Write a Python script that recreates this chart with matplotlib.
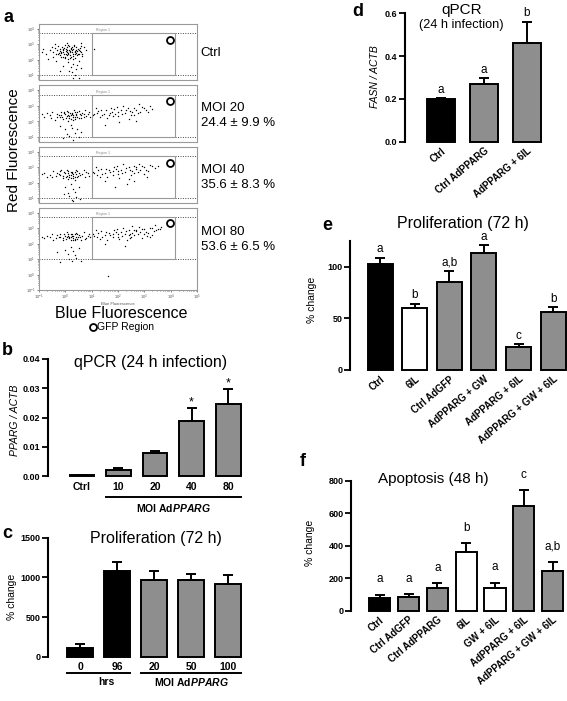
import numpy as np
import matplotlib.pyplot as plt
from matplotlib.lines import Line2D

plt.rcParams['font.family'] = ['Liberation Sans', 'DejaVu Sans']
plt.rcParams['mathtext.fontset'] = 'custom'
plt.rcParams['mathtext.rm'] = 'Liberation Sans'
plt.rcParams['mathtext.it'] = 'Liberation Sans:italic:bold'
plt.rcParams['mathtext.bf'] = 'Liberation Sans:bold'

# ---- panel a: flow cytometry (log10 units) ----
flow_labels = ['Ctrl', 'MOI 20', 'MOI 40', 'MOI 80']
flow_pct = [None, '24.4 \u00b1 9.9 %', '35.6 \u00b1 8.3 %', '53.6 \u00b1 6.5 %']

ctrl_pts = [(-0.25,2.45),(-0.1,2.6),(0.05,2.5),(0.2,2.7),(0.35,2.55),(0.1,2.35),(-0.05,2.75),
            (0.28,2.4),(0.4,2.8),(0.15,2.9),(-0.2,2.3),(0.0,2.2),(0.22,2.15),(0.45,2.3),
            (0.32,2.95),(-0.12,2.85),(0.08,2.62),(0.18,2.48),(-0.3,2.62),(0.5,2.6),(0.38,2.12),
            (0.02,2.4),(0.25,2.82),(-0.18,2.52),(0.12,2.05),(0.42,2.45),(0.3,2.68),(-0.02,2.95),
            (0.55,2.75),(0.6,2.5),(-0.6,2.6),(-0.75,2.4),(-0.5,2.85),(-0.45,2.2),(-0.85,2.7),
            (-0.65,2.05),(-0.4,3.0),(0.6,3.05),(0.65,2.25),(0.5,1.95),(-0.35,1.9),(0.7,2.85),
            (-0.9,2.5),(0.8,2.6),(0.05,3.1),(0.3,1.75),(0.2,1.55),(0.4,1.4),(0.25,1.2),
            (0.1,1.85),(0.35,1.05),(0.45,1.65),(0.15,1.3),(-0.1,1.6),(0.5,0.85),(0.3,0.8),
            (-0.2,1.25),(0.6,1.5),(1.1,2.7),
            (-0.28,2.35),(-0.15,2.42),(-0.08,2.5),(0.03,2.58),(0.14,2.66),(0.27,2.6),(0.36,2.48),
            (0.47,2.4),(0.41,2.62),(0.19,2.3),(0.07,2.28),(-0.04,2.36),(-0.22,2.68),(-0.1,2.72),
            (0.06,2.82),(0.21,2.78),(0.33,2.86),(0.48,2.7),(0.57,2.58),(0.52,2.38),(0.29,2.22),
            (0.16,2.12),(-0.01,2.1),(-0.16,2.18),(-0.35,2.4),(-0.38,2.75),(0.11,2.45),(0.24,2.52),
            (0.02,2.68),(-0.2,2.58),(0.37,2.35),(0.44,2.55),(0.09,2.92),(-0.07,2.2),(0.31,2.05),
            (0.58,2.9),(-0.48,2.5),(0.62,2.36),(-0.26,2.9),(0.17,2.58)]
moi20_pts = [(-0.2,2.3),(0.0,2.45),(0.15,2.2),(0.3,2.4),(0.45,2.3),(0.1,2.6),(-0.1,2.15),
             (0.25,2.55),(0.55,2.5),(0.38,2.15),(0.05,2.32),(0.2,2.4),(-0.3,2.5),(0.6,2.2),
             (0.5,2.65),(-0.05,2.62),(0.32,2.72),(0.12,2.05),(-0.15,2.4),(0.42,2.48),
             (-0.6,2.4),(-0.8,2.3),(-0.5,2.6),(-0.7,2.55),(-0.4,2.1),(-0.9,2.45),(-0.55,2.2),
             (0.7,2.45),(0.8,2.35),(0.9,2.6),(0.75,2.7),(0.95,2.25),(0.65,2.55),
             (1.1,2.5),(1.25,2.65),(1.4,2.4),(1.55,2.7),(1.7,2.55),(1.85,2.8),(2.0,2.6),
             (2.15,2.45),(2.3,2.75),(2.45,2.65),(2.6,2.85),(2.75,2.55),(2.9,2.9),(3.05,2.7),
             (3.2,2.95),(1.3,2.3),(1.6,2.2),(1.95,2.9),(2.2,2.95),(2.5,2.4),(2.8,3.1),
             (3.3,2.8),(1.15,2.85),(1.8,2.35),(2.05,1.95),(2.4,2.15),(1.5,1.8),(2.7,2.05),
             (0.2,1.8),(0.0,1.5),(0.35,1.3),(0.15,1.05),(-0.2,1.7),(0.45,1.55),(0.3,0.85),
             (0.05,1.2),(0.5,1.0),(-0.1,0.95),(0.6,1.35),(0.25,1.6),
             (-0.25,2.38),(-0.12,2.28),(0.02,2.2),(0.09,2.42),(0.18,2.52),(0.28,2.3),(0.4,2.4),
             (0.5,2.22),(0.35,2.58),(0.22,2.16),(-0.05,2.52),(0.13,2.34),(0.3,2.12),(0.46,2.6),
             (0.58,2.38),(-0.18,2.58),(-0.32,2.3),(0.07,2.68),(0.25,2.45),(0.38,2.28),
             (1.05,2.38),(1.2,2.55),(1.35,2.72),(1.48,2.5),(1.65,2.38),(1.78,2.62),(1.9,2.5),
             (2.1,2.7),(2.25,2.55),(2.38,2.85),(2.55,2.6),(2.68,2.75),(2.85,2.6),(3.0,2.85),
             (3.15,2.62),(1.72,2.85),(2.0,2.35),(2.6,2.42),(0.85,2.5),(0.72,2.3)]
moi40_pts = [(-0.2,2.5),(0.0,2.6),(0.15,2.4),(0.3,2.55),(0.45,2.35),(0.1,2.75),(-0.1,2.3),
             (0.25,2.7),(0.5,2.6),(0.35,2.2),(0.05,2.45),(0.2,2.5),(-0.3,2.65),(-0.15,2.85),
             (0.4,2.8),(0.12,2.25),(-0.6,2.5),(-0.8,2.65),(-0.5,2.35),(-0.7,2.4),(-0.45,2.75),
             (-0.9,2.55),(0.65,2.55),(0.8,2.7),(0.9,2.45),(0.7,2.85),
             (1.1,2.6),(1.25,2.8),(1.4,2.55),(1.55,2.9),(1.7,2.7),(1.85,3.0),(2.0,2.75),
             (2.15,2.6),(2.3,2.95),(2.45,2.8),(2.6,3.05),(2.75,2.7),(2.9,3.1),(3.05,2.85),
             (3.2,3.15),(3.4,2.95),(1.3,2.4),(1.6,2.35),(1.95,3.1),(2.2,3.2),(2.5,2.5),
             (2.8,3.2),(3.5,3.05),(1.15,3.0),(1.8,2.5),(2.05,2.3),(2.4,2.25),(2.7,2.9),
             (3.0,2.55),(1.5,2.1),(2.35,1.9),(3.1,2.35),(1.9,1.7),(2.6,2.1),
             (0.2,1.9),(0.3,1.6),(0.1,1.35),(0.4,1.1),(0.25,0.9),(0.5,1.75),(0.0,1.7),
             (0.35,1.4),(0.15,1.15),(0.55,0.95),(0.3,0.8),(-0.05,1.25),
             (-0.25,2.55),(-0.08,2.45),(0.04,2.35),(0.1,2.6),(0.2,2.7),(0.3,2.42),(0.4,2.55),
             (0.48,2.45),(0.36,2.7),(0.22,2.3),(-0.05,2.7),(0.15,2.52),(0.28,2.28),(0.45,2.75),
             (0.55,2.5),(-0.2,2.75),(-0.35,2.45),(0.06,2.85),(0.26,2.6),(0.38,2.4),
             (1.05,2.7),(1.2,2.5),(1.35,2.9),(1.5,2.65),(1.65,2.82),(1.8,2.75),(1.92,2.9),
             (2.1,2.85),(2.25,2.7),(2.4,3.0),(2.55,2.75),(2.68,3.0),(2.85,2.8),(3.0,3.0),
             (3.15,2.75),(3.3,3.05),(2.0,2.55),(2.6,2.6),(0.85,2.6),(0.75,2.4)]
moi80_pts = [(-0.2,2.4),(0.0,2.5),(0.15,2.35),(0.3,2.5),(0.45,2.3),(0.1,2.65),(-0.1,2.25),
             (0.25,2.6),(0.5,2.55),(0.35,2.2),(0.05,2.4),(0.2,2.45),(-0.3,2.55),(0.4,2.7),
             (-0.6,2.45),(-0.8,2.35),(-0.5,2.6),(-0.7,2.5),(-0.45,2.2),(-0.9,2.4),
             (0.65,2.5),(0.8,2.35),(0.9,2.6),(0.7,2.75),(0.95,2.45),(0.6,2.2),
             (1.1,2.5),(1.25,2.7),(1.4,2.45),(1.55,2.75),(1.7,2.55),(1.85,2.85),(2.0,2.6),
             (2.15,2.5),(2.3,2.8),(2.45,2.65),(2.6,2.9),(2.75,2.6),(2.9,2.95),(3.05,2.75),
             (3.2,3.0),(3.35,2.8),(3.5,2.95),(3.65,3.1),(1.3,2.3),(1.6,2.25),(1.95,2.95),
             (2.2,3.0),(2.5,2.45),(2.8,3.05),(3.1,2.5),(1.15,2.85),(1.8,2.4),(2.05,2.3),
             (2.4,2.55),(2.7,2.8),(3.0,2.65),(3.3,2.55),(2.35,2.2),(2.9,2.35),(1.5,2.0),
             (2.25,1.85),(3.4,3.2),(2.55,3.15),
             (0.2,1.8),(0.3,1.5),(0.1,1.3),(0.4,1.05),(0.25,0.85),(0.5,1.7),(0.0,1.6),
             (0.35,1.25),(-0.3,1.45),(0.6,0.9),(-0.2,0.8),(0.15,1.0),(1.63,-0.1),
             (-0.25,2.45),(-0.08,2.38),(0.04,2.3),(0.1,2.52),(0.2,2.6),(0.3,2.35),(0.4,2.45),
             (0.48,2.4),(0.36,2.62),(0.22,2.25),(-0.05,2.6),(0.15,2.45),(0.28,2.2),(0.45,2.65),
             (0.55,2.45),(-0.2,2.62),(-0.35,2.38),(0.06,2.72),(0.26,2.52),(0.38,2.3),
             (1.05,2.6),(1.2,2.45),(1.35,2.8),(1.5,2.55),(1.65,2.7),(1.8,2.65),(1.92,2.78),
             (2.1,2.75),(2.25,2.6),(2.4,2.9),(2.55,2.7),(2.68,2.9),(2.85,2.75),(3.0,2.95),
             (3.15,2.7),(3.3,3.0),(3.45,2.85),(3.6,2.95),(2.0,2.45),(2.6,2.55),(0.85,2.5),
             (0.75,2.3),(3.2,2.4),(2.45,2.35)]
flow_pts = [ctrl_pts, moi20_pts, moi40_pts, moi80_pts]

# ---- panel b ----
b_labels = ['Ctrl', '10', '20', '40', '80']
b_mean = [0.0003, 0.0021, 0.0080, 0.0189, 0.0245]
b_err = [0.0002, 0.0005, 0.0006, 0.0042, 0.0052]
b_star = [False, False, False, True, True]

# ---- panel c ----
c_labels = ['0', '96', '20', '50', '100']
c_mean = [106, 1084, 966, 966, 912]
c_err = [50, 106, 114, 72, 118]

# ---- panel d ----
d_labels = ['Ctrl', 'Ctrl AdPPARG', 'AdPPARG + 6IL']
d_mean = [0.200, 0.270, 0.460]
d_err = [0.003, 0.026, 0.101]
d_let = ['a', 'a', 'b']

# ---- panel e ----
e_labels = ['Ctrl', '6IL', 'Ctrl AdGFP', 'AdPPARG + GW', 'AdPPARG + 6IL', 'AdPPARG + GW + 6IL']
e_mean = [102.6, 59.7, 85.0, 113.0, 22.6, 56.5]
e_err = [6.1, 4.3, 11.0, 7.7, 2.3, 4.2]
e_let = ['a', 'b', 'a,b', 'a', 'c', 'b']

# ---- panel f ----
f_labels = ['Ctrl', 'Ctrl AdGFP', 'Ctrl AdPPARG', '6IL', 'GW + 6IL', 'AdPPARG + 6IL',
            'AdPPARG + GW + 6IL']
f_mean = [80, 86, 142, 364, 142, 648, 243]
f_err = [17, 15, 27, 51, 31, 94, 59]
f_let = ['a', 'a', 'a', 'b', 'a', 'c', 'a,b']

K = 'black'
G = '#8e8e8e'
Wt = 'white'

W, H = 567, 701
fig = plt.figure(figsize=(W / 100, H / 100), dpi=100)


def px_axes(l, t, r, b):
    return fig.add_axes([l / W, 1 - b / H, (r - l) / W, (b - t) / H])


def ftext(x, y, s, **kw):
    kw.setdefault('ha', 'center')
    kw.setdefault('va', 'center')
    return fig.text(x / W, 1 - y / H, s, **kw)


def bar_panel(ax, mean, err, colors, width, xlim, ylim, yticks, yfmt):
    pos = np.arange(len(mean))
    ax.bar(pos, mean, width, color=colors, edgecolor='k', linewidth=1.4, zorder=2, clip_on=False)
    ax.errorbar(pos, mean, yerr=[np.zeros(len(mean)), err], fmt='none', ecolor='k',
                elinewidth=1.4, capsize=3.8, capthick=1.4, zorder=3, clip_on=False)
    ax.set_xlim(*xlim)
    ax.set_ylim(*ylim)
    ax.set_yticks(yticks)
    ax.set_yticklabels([yfmt.format(v) for v in yticks], fontweight='bold', fontsize=6.5)
    for s in ['top', 'right', 'bottom']:
        ax.spines[s].set_visible(False)
    ax.spines['left'].set_linewidth(1.5)
    ax.tick_params(axis='y', length=4, width=1.3, pad=1.5)
    ax.tick_params(axis='x', length=0)
    ax.set_xticks(pos)
    ax.patch.set_alpha(0)
    return pos


def letters(ax, pos, mean, err, labs, off):
    for p, m, e, t in zip(pos, mean, err, labs):
        ax.annotate(t, (p, m + e), xytext=(0, off), textcoords='offset points',
                    ha='center', va='baseline', fontsize=8.5)


# ---------------- panel a ----------------
a_boxes = [(24, 80, 0.7), (85, 142, 0.7), (147, 203, 0.7), (208, 290, -1.0)]
minor = np.concatenate([np.log10(np.arange(2, 10)) + n for n in range(-1, 5)])
for i, (pts, (top, bot, ylo)) in enumerate(zip(flow_pts, a_boxes)):
    ax = px_axes(39, top, 197, bot)
    xy = np.array(pts)
    ax.scatter(xy[:, 0], xy[:, 1], s=1.0, c='k', linewidths=0)
    ax.set_xlim(-1, 5)
    ax.set_ylim(ylo, 4.3)
    for yy in [3.7, 1.0]:
        ax.axhline(yy, color='#444', lw=0.7, ls=(0, (1, 1.5)))
    ax.plot([1, 1, 4.17, 4.17, 1], [1.0, 3.7, 3.7, 1.0, 1.0], color='#999', lw=0.8)
    ax.text(1.15, 3.82, 'Region 1', fontsize=2.5, color='#888')
    ax.plot(3.96, 3.3, 'o', ms=5, mfc='white', mec='k', mew=1.3)
    for s in ax.spines.values():
        s.set_color('#999')
        s.set_linewidth(0.8)
    yt = [n for n in range(-1, 5) if n >= ylo]
    ax.set_yticks(yt)
    ax.set_yticklabels(['$10^{%d}$' % n for n in yt], fontsize=3, color='#555')
    ax.set_yticks([m for m in minor if ylo <= m <= 4.3], minor=True)
    ax.tick_params(axis='y', which='both', length=1.5, width=0.5, pad=1, colors='#555')
    ax.tick_params(axis='y', which='minor', length=1)
    if i == 3:
        ax.set_xticks(range(-1, 6))
        ax.set_xticklabels(['$10^{%d}$' % n for n in range(-1, 6)], fontsize=3, color='#555')
        ax.set_xticks([m for m in minor if m <= 5], minor=True)
        ax.tick_params(axis='x', which='both', length=1.5, width=0.5, pad=0.5, colors='#555')
        ax.tick_params(axis='x', which='minor', length=1)
        ax.set_xlabel('Blue Fluorescence', fontsize=3, labelpad=0, color='#555')
    else:
        ax.set_xticks([])

ly = [53, 108, 170, 232]
for lab, pct, y in zip(flow_labels, flow_pct, ly):
    if pct is None:
        ftext(200, y, lab, fontsize=9.5, ha='left')
    else:
        ftext(201, y, lab, fontsize=9.5, ha='left')
        ftext(201, y + 15, pct, fontsize=9.5, ha='left')
ftext(14, 150, 'Red Fluorescence', fontsize=11, rotation=90)
ftext(121, 313, 'Blue Fluorescence', fontsize=11.5)
ftext(97, 327, 'GFP Region', fontsize=7.5, ha='left')
fig.add_artist(Line2D([93 / W], [1 - 327 / H], marker='o', ms=5, mfc='white', mec='k',
                      mew=1.3, transform=fig.transFigure))

# ---------------- panel b ----------------
ax = px_axes(48, 359, 250, 476)
pos = bar_panel(ax, b_mean, b_err, [K, G, G, G, G], 0.68, (-0.93, 4.6), (0, 0.04),
                [0, 0.01, 0.02, 0.03, 0.04], '{:.2f}')
ax.set_xticklabels(b_labels, fontweight='bold', fontsize=7.5)
ax.tick_params(axis='x', pad=4)
for p, m, e, s in zip(pos, b_mean, b_err, b_star):
    if s:
        ax.annotate('*', (p, m + e), xytext=(0, 0), textcoords='offset points',
                    ha='center', va='bottom', fontsize=9)
ax.plot([pos[1] - 0.34, pos[4] + 0.34], [-0.179, -0.179], color='k', lw=1.4,
        transform=ax.get_xaxis_transform(), clip_on=False)
ax.text((pos[1] + pos[4]) / 2, -0.27, r'MOI Ad$\it{PPARG}$', fontsize=7.5, fontweight='bold',
        ha='center', va='center', transform=ax.get_xaxis_transform())
ftext(151, 362, 'qPCR (24 h infection)', fontsize=11.5)
ftext(15, 420, 'PPARG / ACTB', fontsize=7.5, fontstyle='italic', rotation=90)

# ---------------- panel c ----------------
ax = px_axes(48, 537.7, 250, 656.7)
pos = bar_panel(ax, c_mean, c_err, [K, K, G, G, G], 0.7, (-0.865, 4.59), (0, 1500),
                [0, 500, 1000, 1500], '{:d}')
ax.set_xticklabels(c_labels, fontweight='bold', fontsize=7.5)
ax.tick_params(axis='x', pad=4)
tr = ax.get_xaxis_transform()
ax.plot([pos[0] - 0.35, pos[1] + 0.35], [-0.134, -0.134], color='k', lw=1.4,
        transform=tr, clip_on=False)
ax.plot([pos[2] - 0.35, pos[4] + 0.35], [-0.134, -0.134], color='k', lw=1.4,
        transform=tr, clip_on=False)
ax.text((pos[0] + pos[1]) / 2 + 0.2, -0.215, 'hrs', fontsize=7.5, fontweight='bold',
        ha='center', va='center', transform=tr)
ax.text((pos[2] + pos[4]) / 2, -0.215, r'MOI Ad$\it{PPARG}$', fontsize=7.5, fontweight='bold',
        ha='center', va='center', transform=tr)
ftext(156, 538, 'Proliferation (72 h)', fontsize=11.5)
ftext(12, 597, '% change', fontsize=7.5, rotation=90)

# ---------------- panel d ----------------
ax = px_axes(405, 13.3, 560, 141.7)
pos = bar_panel(ax, d_mean, d_err, [K, G, G], 0.67, (-0.84, 2.77), (0, 0.6),
                [0, 0.2, 0.4, 0.6], '{:.1f}')
ax.set_xticklabels(d_labels, fontweight='bold', fontsize=7, rotation=40, ha='right',
                   rotation_mode='anchor')
ax.tick_params(axis='x', pad=3)
letters(ax, pos, d_mean, d_err, d_let, 4)
ftext(462, 10, 'qPCR', fontsize=11)
ftext(461, 25, '(24 h infection)', fontsize=9.2)
ftext(375, 77, 'FASN / ACTB', fontsize=7.5, fontstyle='italic', rotation=90)

# ---------------- panel e ----------------
ax = px_axes(350, 240.9, 567, 370)
pos = bar_panel(ax, e_mean, e_err, [K, Wt, G, G, G, G], 0.72, (-0.87, 5.4), (0, 125),
                [0, 50, 100], '{:d}')
ax.set_xticklabels(e_labels, fontweight='bold', fontsize=7, rotation=40, ha='right',
                   rotation_mode='anchor')
ax.tick_params(axis='x', pad=3)
letters(ax, pos, e_mean, e_err, e_let, 4)
ftext(463, 223, 'Proliferation (72 h)', fontsize=11.5)
ftext(312, 300, '% change', fontsize=7.5, rotation=90)

# ---------------- panel f ----------------
ax = px_axes(351, 481, 567, 610.7)
pos = bar_panel(ax, f_mean, f_err, [K, G, G, Wt, Wt, G, G], 0.73, (-1.0, 6.5), (0, 800),
                [0, 200, 400, 600, 800], '{:d}')
ax.set_xticklabels(f_labels, fontweight='bold', fontsize=7, rotation=40, ha='right',
                   rotation_mode='anchor')
ax.tick_params(axis='x', pad=3)
letters(ax, pos, f_mean, f_err, f_let, 9)
ftext(433, 479, 'Apoptosis (48 h)', fontsize=11)
ftext(310, 543, '% change', fontsize=7.5, rotation=90)

# panel letters
for t, x, y in [('a', 8, 17), ('b', 7, 350), ('c', 7, 533), ('d', 358, 11), ('e', 327, 225),
                ('f', 303, 461)]:
    ftext(x, y, t, fontsize=13, fontweight='bold')

fig.savefig('out.png', dpi=100)
